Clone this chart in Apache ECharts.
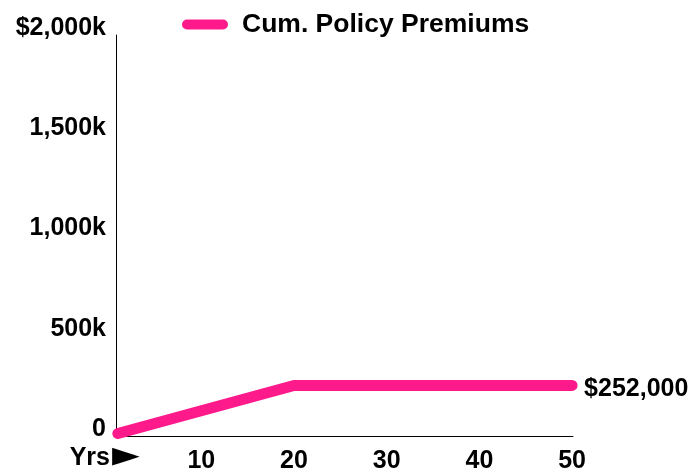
<!DOCTYPE html>
<html>
<head>
<meta charset="utf-8">
<script src="https://cdn.jsdelivr.net/npm/echarts@6/dist/echarts.min.js"></script>
<style>
html,body{margin:0;padding:0;background:#fff;}
#chart{width:695px;height:476px;}
</style>
</head>
<body>
<div id="chart"></div>
<script>
var seriesName = 'Cum. Policy Premiums';
var years = [1, 10, 20, 30, 40, 50];
var premiums = [12600, 126000, 252000, 252000, 252000, 252000];
var xTickValues = [10, 20, 30, 40, 50];
var yTickLabels = ['0', '500k', '1,000k', '1,500k', '$2,000k'];
var xAxisWord = 'Yrs';
var xAxisArrow = '\u25BA';
var endLabelText = '$252,000';

var FONT = '"Liberation Sans", Arial, sans-serif';
var chart = echarts.init(document.getElementById('chart'));
chart.setOption({
  animation: false,
  legend: {
    left: 177, top: 6,
    itemWidth: 46, itemHeight: 10,
    icon: 'path://M5,0 L41,0 A5,5 0 0 1 41,10 L5,10 A5,5 0 0 1 5,0 Z',
    textStyle: {fontFamily: FONT, fontWeight: 'bold', fontSize: 26.5, color: '#000', padding: [0,0,0,9]},
    data: [seriesName]
  },
  grid: {left: 116, right: 122, top: 35, bottom: 40, containLabel: false},
  xAxis: {
    type: 'value', min: 0.8, max: 50.1,
    splitLine: {show: false},
    axisTick: {show: false},
    axisLine: {lineStyle: {color: '#000', width: 1}},
    axisLabel: {
      customValues: xTickValues,
      fontFamily: FONT, fontWeight: 'bold', fontSize: 25, color: '#000', margin: 13,
      formatter: function (v) { return String(v); }
    }
  },
  yAxis: {
    type: 'value', min: 0, max: 2000000, interval: 500000,
    splitLine: {show: false},
    axisTick: {show: false},
    axisLine: {show: true, lineStyle: {color: '#000', width: 1}},
    axisLabel: {
      fontFamily: FONT, fontWeight: 'bold', fontSize: 25, color: '#000', margin: 10,
      verticalAlign: 'bottom', lineHeight: 14,
      formatter: function (v) { return yTickLabels[Math.round(v / 500000)]; }
    }
  },
  graphic: [{
    type: 'text', right: 695 - 110, top: 446,
    style: {text: xAxisWord, fontFamily: FONT, fontWeight: 'bold', fontSize: 25, fill: '#000', textAlign: 'right'}
  }, {
    type: 'text', left: 112, top: 439,
    style: {text: xAxisArrow, fontFamily: '"DejaVu Sans"', fontSize: 36, fill: '#000'}
  }],
  series: [{
    name: seriesName, type: 'line',
    data: years.map(function (y, i) { return [y, premiums[i]]; }),
    showSymbol: false, symbol: 'none', clip: false,
    color: '#ff1a8c',
    lineStyle: {width: 11, color: '#ff1a8c', cap: 'round', join: 'round'},
    endLabel: {show: true, formatter: endLabelText, distance: 12, offset: [0, 4],
      fontFamily: FONT, fontWeight: 'bold', fontSize: 25, color: '#000'}
  }]
});
</script>
</body>
</html>
